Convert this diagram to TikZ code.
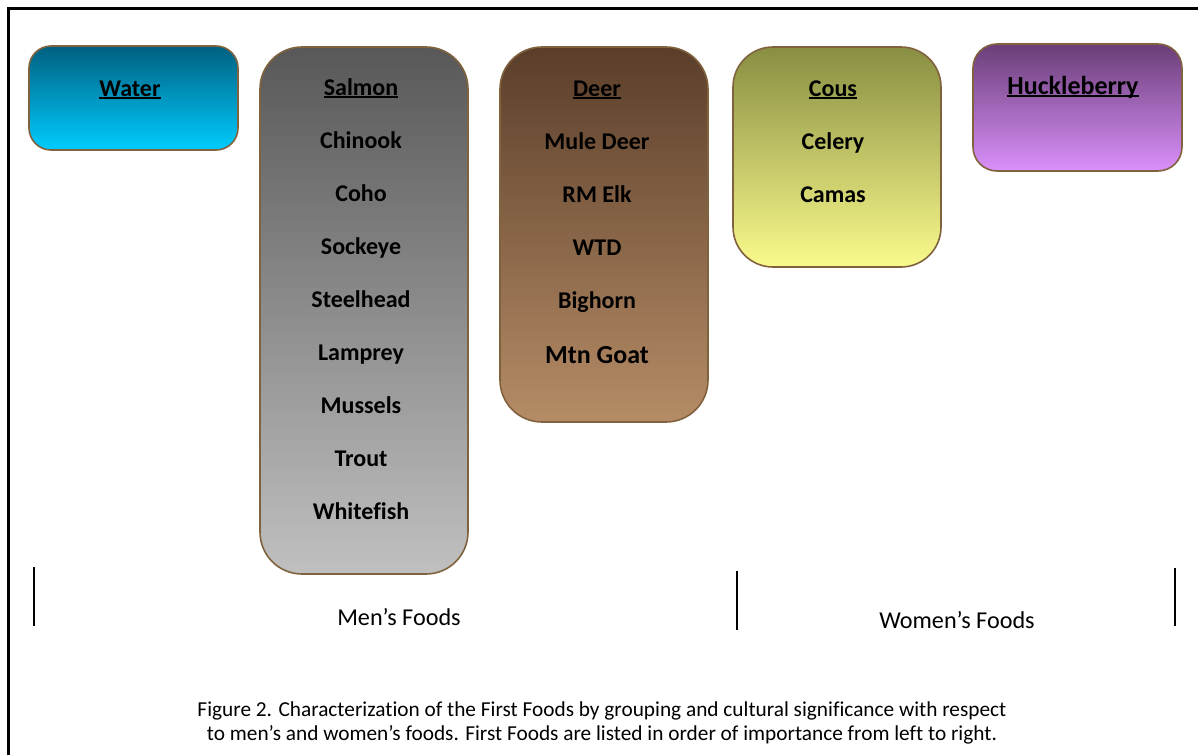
\documentclass[tikz,border=0pt]{standalone}
\usepackage{fontspec}
\setmainfont{Carlito}[Ligatures=NoCommon]
\definecolor{boxedge}{RGB}{128,98,62}
\definecolor{watertop}{RGB}{0,96,128}
\definecolor{waterbot}{RGB}{0,204,255}
\definecolor{salmontop}{RGB}{88,88,88}
\definecolor{salmonbot}{RGB}{192,192,192}
\definecolor{deertop}{RGB}{90,62,42}
\definecolor{deerbot}{RGB}{182,140,102}
\definecolor{coustop}{RGB}{136,142,66}
\definecolor{cousbot}{RGB}{250,250,140}
\definecolor{hucktop}{RGB}{106,62,120}
\definecolor{huckbot}{RGB}{218,144,250}
\newcommand{\headtext}[1]{\setbox0=\hbox{#1}\leavevmode\rlap{\rule[-3.2pt]{\wd0}{1.8pt}}\box0}
\begin{document}
\begin{tikzpicture}[x=1pt,y=-1pt,
    foodbox/.style={draw=boxedge, line width=1.6pt, rounded corners=#1, inner sep=0pt},
    head/.style={anchor=base, font=\fontsize{24}{28}\selectfont\bfseries},
    item/.style={anchor=base, font=\fontsize{24}{28}\selectfont\bfseries},
    bigitem/.style={anchor=base, font=\fontsize{26}{30}\selectfont\bfseries},
    label/.style={anchor=base, font=\fontsize{24.2}{28}\selectfont},
    divider/.style={line width=1.6pt}]
    \useasboundingbox (0,0) rectangle (1198,755);
    \draw[line width=3pt](8,755)--(8,8)--(1198,8);

    \node[foodbox=22pt, top color=watertop, bottom color=waterbot, minimum width=209pt, minimum height=104pt](water) at (133.5,98){};
    \node[foodbox=42pt, top color=salmontop, bottom color=salmonbot, minimum width=208pt, minimum height=527pt](salmon) at (364,310.5){};
    \node[foodbox=42pt, top color=deertop, bottom color=deerbot, minimum width=208pt, minimum height=375pt](deer) at (604,234.5){};
    \node[foodbox=40pt, top color=coustop, bottom color=cousbot, minimum width=208pt, minimum height=220pt](cous) at (837,157){};
    \node[foodbox=24pt, top color=hucktop, bottom color=huckbot, minimum width=209pt, minimum height=127pt](huck) at (1077.5,107.5){};

    \node[head](water-h) at (130,96){\headtext{Water}};
    \node[head](salmon-h) at (361,95){\headtext{Salmon}};
    \node[head](deer-h) at (597,96){\headtext{Deer}};
    \node[head](cous-h) at (833,96){\headtext{Cous}};
    \node[bigitem](huck-h) at (1073,94){\headtext{Huckleberry}};

    \foreach \name [count=\i] in {Chinook,Coho,Sockeye,Steelhead,Lamprey,Mussels,Trout,Whitefish}
        \node[item](salmon-\i) at (361,95+53.1*\i){\name};
    \foreach \name [count=\i] in {Mule Deer,RM Elk,WTD,Bighorn}
        \node[item](deer-\i) at (597,96+53*\i){\name};
    \node[bigitem](deer-5) at (597,363){Mtn Goat};
    \node[item](cous-1) at (833,149){Celery};
    \node[item](cous-2) at (833,202){Camas};

    \draw[divider](34,567)--(34,626);
    \draw[divider](737,571)--(737,630);
    \draw[divider](1175,568)--(1175,626);
    \node[label](men) at (399,625){Men’s Foods};
    \node[label](women) at (957,628){Women’s Foods};

    \node[anchor=base, align=center, font=\fontsize{21.3}{24}\selectfont](caption) at (602,740)
        {Figure 2. Characterization of the First Foods by grouping and cultural significance with respect\\
         to men’s and women’s foods. First Foods are listed in order of importance from left to right.};
\end{tikzpicture}
\end{document}
